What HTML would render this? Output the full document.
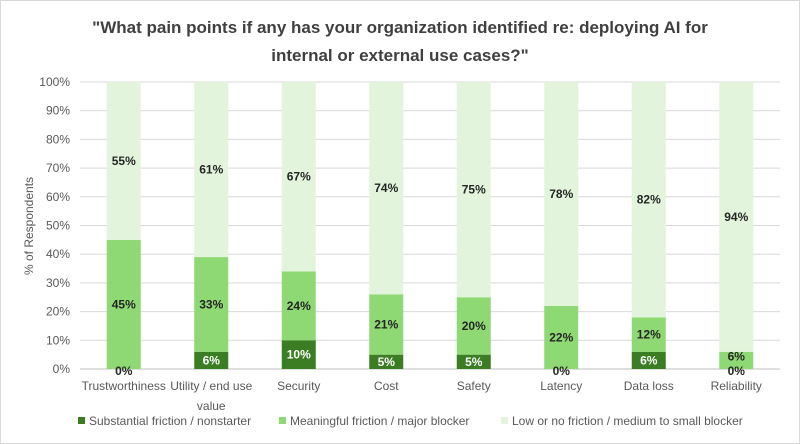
<!DOCTYPE html>
<html><head><meta charset="utf-8"><style>
body{margin:0;background:#fff}
svg{display:block;font-family:"Liberation Sans",sans-serif}
</style></head><body>
<svg id="chart" width="800" height="444">
<rect x="0.5" y="0.5" width="799" height="443" fill="#fff" stroke="#d9d9d9"/>
<text x="400" y="33" text-anchor="middle" font-size="17" font-weight="bold" fill="#404040">"What pain points if any has your organization identified re: deploying AI for</text>
<text x="400" y="61" text-anchor="middle" font-size="17" font-weight="bold" fill="#404040">internal or external use cases?"</text>
<g id="grid"></g><g id="bars"></g><g id="labels"></g>
<text transform="translate(33,226) rotate(-90)" text-anchor="middle" font-size="12" fill="#595959">% of Respondents</text>
<g>
<rect x="78" y="417" width="7" height="7" fill="#3a7d22"/>
<text x="89" y="425" font-size="12" fill="#595959">Substantial friction / nonstarter</text>
<rect x="279" y="417" width="7" height="7" fill="#8ed973"/>
<text x="290" y="425" font-size="12" fill="#595959">Meaningful friction / major blocker</text>
<rect x="501" y="417" width="7" height="7" fill="#e2f5dc"/>
<text x="512" y="425" font-size="12" fill="#595959">Low or no friction / medium to small blocker</text>
</g>
</svg>
<script>
const categories=[["Trustworthiness"],["Utility / end use","value"],["Security"],["Cost"],["Safety"],["Latency"],["Data loss"],["Reliability"]];
const substantial=[0,6,10,5,5,0,6,0];
const meaningful=[45,33,24,21,20,22,12,6];
const low=[55,61,67,74,75,78,82,94];
const yTicks=[0,10,20,30,40,50,60,70,80,90,100];
const NS="http://www.w3.org/2000/svg";
const L=80,R=780,T=82,B=369,bw=34;
const y=v=>B-(B-T)*v/100;
const xc=i=>L+(R-L)/categories.length*(i+0.5);
function mk(tag,attrs,parent,txt){const e=document.createElementNS(NS,tag);for(const k in attrs)e.setAttribute(k,attrs[k]);if(txt!==undefined)e.textContent=txt;parent.appendChild(e);return e;}
const grid=document.getElementById('grid'),bars=document.getElementById('bars'),labels=document.getElementById('labels');
yTicks.forEach(t=>{
 const ln=mk('line',{x1:L,x2:R,y1:y(t),y2:y(t),stroke:t===0?'#bfbfbf':'#d9d9d9','stroke-width':1},grid);
 
 
 const tx=mk('text',{x:L-10,y:y(t)+4,'text-anchor':'end','font-size':12,fill:'#595959'},grid,t+'%');
 
 
});
const series=[[substantial,'#3a7d22','#fff','substantial'],[meaningful,'#8ed973','#262626','meaningful'],[low,'#e2f5dc','#262626','low']];
categories.forEach((c,i)=>{
 let base=0;
 series.forEach(([arr,col,tc,nm])=>{
  const v=arr[i];
  const top=Math.min(100,base+v);
  const r=mk('rect',{x:xc(i)-bw/2,y:y(top),width:bw,height:y(base)-y(top),fill:col},bars);
  
  
  let ly=(y(base)+y(top))/2+4;
  if(v===0)ly=B+6;
  else if(y(base)-y(top)<20&&base===0&&nm!=='substantial')ly-=4;
  const t=mk('text',{x:xc(i),y:ly,'text-anchor':'middle','font-size':12,'font-weight':'bold',fill:v===0?'#262626':tc},labels,v+'%');
  
  
  base=top;
 });
 c.forEach((line,j)=>{
  const t=mk('text',{x:xc(i),y:390+j*20,'text-anchor':'middle','font-size':12,fill:'#595959'},labels,line);
  
  
 });
});
</script>
</body></html>
